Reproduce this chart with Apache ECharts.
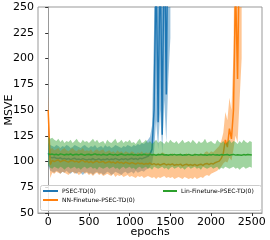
<!DOCTYPE html>
<html><head><meta charset="utf-8">
<script src="https://cdn.jsdelivr.net/npm/echarts@6/dist/echarts.min.js"></script>
<style>html,body{margin:0;padding:0;background:#fff}#c{width:270px;height:240px}</style>
</head><body><div id="c"></div>
<script>
// epochs sampled every 25
const epochs = Array.from({length: 101}, (_, i) => i * 25);
const xTicks = [0, 500, 1000, 1500, 2000, 2500];
const yTicks = [50, 75, 100, 125, 150, 175, 200, 225, 250];
const seriesNames = ['PSEC-TD(0)', 'NN-Finetune-PSEC-TD(0)', 'Lin-Finetune-PSEC-TD(0)'];

const blueMean = [108,104,103.5,104.2,103.1,102.8,103.6,102.4,103.0,102.2,
102.9,101.8,102.6,103.2,101.9,102.5,101.6,102.8,102.1,101.4,
102.3,101.7,102.9,101.5,102.0,102.6,101.3,102.2,101.8,102.7,
101.6,102.4,101.9,103.0,102.1,101.5,102.6,102.0,102.8,101.7,
102.4,103.1,102.2,102.9,101.8,103.3,102.6,103.5,104.2,105.0,
107,112,150,290,138,310,126,330,165,380,
450];
const blueHi = [118,116,115,114,116,115,113,115,114,116,
115,113,114,116,115,114,113,115,116,114,
113,115,114,116,113,114,115,113,116,114,
115,113,114,116,115,114,113,115,114,116,
115,114,116,115,117,116,118,117,119,121,
124,135,230,420,300,450,280,480,350,520,
600];
const blueLo = [96,91,90,89,91,90,88,90,89,91,
89,88,90,89,88,90,89,87,89,90,
88,89,87,89,90,88,89,87,88,90,
89,87,88,90,89,88,87,89,90,88,
89,90,88,91,89,90,91,90,92,93,
95,98,110,140,112,150,108,160,118,180,
220];

const orangeMean = [150,97,101.2,99.8,100.9,101.5,99.6,100.7,101.3,100.1,
99.4,100.8,101.0,99.7,100.4,99.1,100.6,101.2,99.5,100.3,
99.0,100.2,98.7,99.8,100.5,98.9,99.6,100.1,98.4,99.3,
100.0,98.8,99.5,98.2,99.9,98.6,99.2,98.0,99.4,98.5,
97.8,99.0,98.3,97.5,98.7,97.9,98.4,97.2,98.1,97.6,
98.5,97.0,97.9,96.8,97.6,96.5,97.3,98.0,96.6,97.4,
96.9,97.7,96.2,97.1,96.7,97.5,95.8,96.9,97.3,96.4,
97.0,96.1,97.2,95.9,96.8,97.4,96.3,97.6,98.1,97.0,
98.2,97.5,98.8,99.6,100.4,103,108,121,114,132,
122,150,270,180,320,400];
const orangeHi = [165,112,113,111,112,113,110,112,113,111,
110,112,113,111,110,112,111,113,110,111,
110,112,109,111,112,110,111,112,109,110,
111,109,110,108,111,109,110,108,110,109,
108,110,109,107,109,108,110,107,109,108,
109,107,108,106,108,107,109,108,106,107,
107,108,106,107,106,108,105,107,108,106,
107,106,108,105,107,108,106,109,110,108,
110,109,111,113,115,120,128,148,140,162,
150,205,420,330,500,600];
const orangeLo = [135,84,89,88,90,89,88,90,89,88,
87,89,90,88,89,87,88,90,88,89,
87,88,86,88,89,87,88,86,87,88,
87,86,88,85,87,86,87,85,86,87,
85,86,85,84,86,85,86,84,85,86,
85,84,85,83,85,84,85,86,84,85,
84,85,83,84,85,84,83,85,84,83,
84,83,85,83,84,85,84,86,87,86,
88,89,90,91,93,95,98,100,99,104,
101,112,125,118,160,200];

const greenMean = [107.5,106.8,107.2,106.5,107.0,106.2,107.4,106.9,106.3,107.1,
106.6,107.3,106.1,106.8,107.0,106.4,107.2,106.7,106.0,106.9,
107.1,106.3,106.8,107.4,106.5,106.9,106.2,107.0,106.6,106.3,
107.2,106.7,106.4,106.9,106.1,106.8,107.3,106.5,106.2,106.9,
106.6,107.1,106.3,106.7,106.0,106.8,106.4,107.0,106.5,106.2,
106.9,106.4,106.7,106.1,106.8,106.5,107.1,106.3,106.6,106.0,
106.7,106.4,106.9,106.2,106.5,106.8,106.1,106.6,106.3,106.9,
106.4,106.0,106.7,106.5,106.2,106.8,106.3,106.6,106.1,106.7,
106.4,106.9,106.2,106.5,106.0,106.7,106.3,106.6,106.8,106.1,
106.5,106.9,106.2,106.6,106.4,106.0,106.7,106.3,106.8,106.5,
106.2];
const greenHi = [124,122,123,121,120,122,119,121,118,120,
119,121,118,120,122,119,118,121,119,120,
118,120,122,119,121,118,119,120,117,121,
119,118,120,122,118,119,121,118,120,119,
121,118,119,117,120,122,118,119,121,118,
120,117,119,121,118,120,119,117,120,118,
121,119,118,120,117,119,121,118,119,120,
118,121,119,117,120,118,119,122,118,119,
120,118,117,121,119,118,120,117,119,121,
118,120,119,117,120,118,121,119,118,120,
119];
const greenLo = [96,94,93,95,94,93,95,94,92,94,
95,93,94,95,93,94,92,94,95,93,
94,95,93,94,92,95,94,93,94,95,
93,94,95,93,94,92,94,95,93,94,
95,93,94,92,94,95,93,94,95,93,
94,92,95,94,93,94,95,93,94,92,
94,95,93,94,95,93,94,92,94,95,
93,94,95,93,94,92,95,94,93,94,
95,93,94,95,92,94,93,95,94,93,
94,95,93,94,92,94,95,93,94,95,
94];

const colors = ['#1f77b4', '#ff7f0e', '#2ca02c'];
const groups = [
  {name: seriesNames[0], mean: blueMean, hi: blueHi, lo: blueLo, color: colors[0]},
  {name: seriesNames[1], mean: orangeMean, hi: orangeHi, lo: orangeLo, color: colors[1]},
  {name: seriesNames[2], mean: greenMean, hi: greenHi, lo: greenLo, color: colors[2]}
];

function hexA(hex, a) {
  const n = parseInt(hex.slice(1), 16);
  return 'rgba(' + (n >> 16) + ',' + ((n >> 8) & 255) + ',' + (n & 255) + ',' + a + ')';
}

const series = [];
groups.forEach((g, k) => {
  series.push({
    name: '_band' + k, type: 'custom', silent: true, z: 2 + k * 2,
    data: [[epochs[0], g.mean[0]]],
    renderItem: function (params, api) {
      const up = g.hi.map((v, i) => api.coord([epochs[i], v]));
      const dn = g.lo.map((v, i) => api.coord([epochs[i], v])).reverse();
      const cs = params.coordSys;
      return {
        type: 'polygon',
        shape: {points: up.concat(dn)},
        style: {fill: hexA(g.color, 0.45), stroke: null},
        clipPath: {type: 'rect', shape: {x: cs.x, y: cs.y, width: cs.width, height: cs.height}}
      };
    }
  });
  series.push({
    name: g.name, type: 'line', showSymbol: false,
    data: g.mean.map((v, i) => [epochs[i], v]),
    lineStyle: {color: g.color, width: 1.5}, itemStyle: {color: g.color},
    z: 3 + k * 2
  });
});

const chart = echarts.init(document.getElementById('c'), null, {renderer: 'canvas'});
const font = 'DejaVu Sans';
chart.setOption({
  animation: false,
  backgroundColor: '#fff',
  grid: {left: 38, right: 8, top: 7, bottom: 27, show: true, borderColor: '#999', borderWidth: 1,
         containLabel: false, outerBoundsMode: 'none'},
  xAxis: {
    type: 'value', min: -125, max: 2625,
    name: 'epochs', nameLocation: 'middle', nameGap: 14, nameMoveOverlap: false,
    nameTextStyle: {fontFamily: font, fontSize: 11, color: '#000'},
    axisLine: {show: true, lineStyle: {color: '#999'}},
    axisTick: {show: true, length: 3, lineStyle: {color: '#333'}, customValues: xTicks},
    axisLabel: {fontFamily: font, fontSize: 11, color: '#000', margin: 4, customValues: xTicks,
                formatter: v => String(v)},
    splitLine: {show: false}
  },
  yAxis: {
    type: 'value', min: 50, max: 250,
    name: 'MSVE', nameLocation: 'middle', nameGap: 23, nameMoveOverlap: false,
    nameTextStyle: {fontFamily: font, fontSize: 11, color: '#000'},
    axisLine: {show: true, lineStyle: {color: '#999'}},
    axisTick: {show: true, length: 3, lineStyle: {color: '#333'}, customValues: yTicks},
    axisLabel: {fontFamily: font, fontSize: 11, color: '#000', margin: 4, customValues: yTicks,
                formatter: v => String(v)},
    splitLine: {show: false}
  },
  legend: [
    {data: [seriesNames[0], seriesNames[1]], orient: 'vertical', left: 43, top: 188, z: 20,
     icon: 'rect', itemWidth: 15, itemHeight: 2, itemGap: 3,
     textStyle: {fontFamily: font, fontSize: 6, color: '#000', padding: [0,0,0,-1]}, padding: 0},
    {data: [seriesNames[2]], orient: 'vertical', left: 163, top: 188, z: 20,
     icon: 'rect', itemWidth: 14, itemHeight: 2, itemGap: 3,
     textStyle: {fontFamily: font, fontSize: 6, color: '#000', padding: [0,0,0,-1]}, padding: 0}
  ],
  graphic: [{
    type: 'rect', left: 40, top: 185, z: 1, silent: true,
    shape: {width: 221, height: 25, r: 2},
    style: {fill: 'rgba(255,255,255,0.8)', stroke: '#ccc', lineWidth: 1}
  }],
  series: series
});
</script></body></html>
